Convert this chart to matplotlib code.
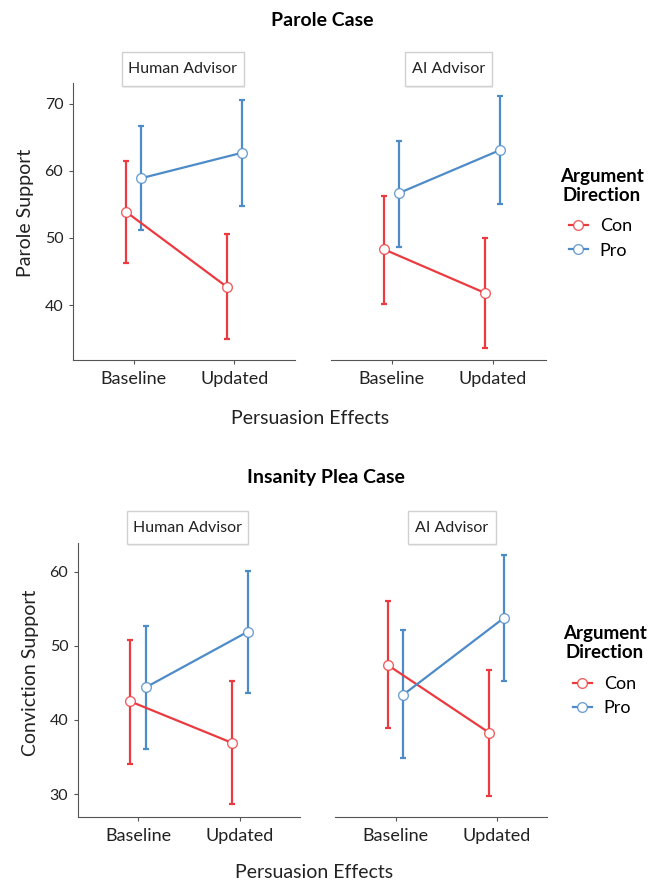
import numpy as np
import matplotlib
matplotlib.use('Agg')
import matplotlib.pyplot as plt
from matplotlib.colors import to_rgba
from matplotlib.patches import Rectangle

plt.rcParams['font.family'] = ['Lato', 'DejaVu Sans']

conditions = ['Baseline', 'Updated']
directions = ['Con', 'Pro']
advisors = ['Human Advisor', 'AI Advisor']
colors = ['#ec3b40', '#4d8bc9']

# Parole case: mean, lower and upper CI for [Baseline, Updated]
parole_human_con = [53.9, 42.7]
parole_human_con_lo = [46.2, 34.9]
parole_human_con_hi = [61.5, 50.6]
parole_human_pro = [58.9, 62.7]
parole_human_pro_lo = [51.2, 54.8]
parole_human_pro_hi = [66.7, 70.6]
parole_ai_con = [48.3, 41.8]
parole_ai_con_lo = [40.1, 33.6]
parole_ai_con_hi = [56.2, 50.0]
parole_ai_pro = [56.7, 63.1]
parole_ai_pro_lo = [48.7, 55.1]
parole_ai_pro_hi = [64.5, 71.2]

# Insanity plea case
plea_human_con = [42.5, 36.9]
plea_human_con_lo = [34.1, 28.6]
plea_human_con_hi = [50.8, 45.2]
plea_human_pro = [44.4, 51.9]
plea_human_pro_lo = [36.1, 43.7]
plea_human_pro_hi = [52.7, 60.1]
plea_ai_con = [47.4, 38.3]
plea_ai_con_lo = [38.9, 29.8]
plea_ai_con_hi = [56.1, 46.8]
plea_ai_pro = [43.4, 53.8]
plea_ai_pro_lo = [34.8, 45.3]
plea_ai_pro_hi = [52.1, 62.3]

W, H = 657, 884
fig = plt.figure(figsize=(W / 100, H / 100), dpi=100)
spine_col = '#555555'
text_col = '#222222'


def fx(px):
    return px / W


def fy(py):
    return 1 - py / H


def make_ax(x0, x1, y0, y1):
    return fig.add_axes([fx(x0), fy(y1), fx(x1 - x0), (y1 - y0) / H])


def draw_panel(ax, series, xlim, ylim, yticks, show_y):
    x = np.arange(1, len(conditions) + 1)
    handles = []
    for (mean, lo, hi), col, off in zip(series, colors, [-0.075, 0.075]):
        mean, lo, hi = np.array(mean), np.array(lo), np.array(hi)
        xs = x + off
        ax.errorbar(xs, mean, yerr=[mean - lo, hi - mean], fmt='none',
                    ecolor=col, elinewidth=1.6, capsize=2, capthick=1.6, zorder=2)
        h, = ax.plot(xs, mean, color=col, lw=1.6, marker='o', ms=7,
                     mfc='white', mec=to_rgba(col, 0.8), mew=1, zorder=3)
        handles.append(h)
    ax.set_xlim(*xlim)
    ax.set_ylim(*ylim)
    ax.set_xticks(x)
    ax.set_xticklabels(conditions, fontsize=13, color=text_col)
    for s in ['top', 'right']:
        ax.spines[s].set_visible(False)
    ax.spines['bottom'].set_color(spine_col)
    ax.spines['left'].set_color(spine_col)
    ax.tick_params(axis='x', length=3, color=spine_col, pad=5)
    if show_y:
        ax.set_yticks(yticks)
        ax.tick_params(axis='y', length=3, color=spine_col, labelsize=11.5,
                       labelcolor=text_col, pad=4)
    else:
        ax.spines['left'].set_visible(False)
        ax.set_yticks([])
    ax.patch.set_alpha(0)
    return handles


def strip(x0, x1, y0, y1, label):
    fig.patches.append(Rectangle((fx(x0) + 0.002, fy(y1) - 0.002), fx(x1 - x0), (y1 - y0) / H,
                                 transform=fig.transFigure, facecolor='#eeeeee',
                                 edgecolor='none', zorder=1))
    fig.patches.append(Rectangle((fx(x0), fy(y1)), fx(x1 - x0), (y1 - y0) / H,
                                 transform=fig.transFigure, facecolor='white',
                                 edgecolor='#d0d0d0', lw=1, zorder=2))
    fig.text(fx((x0 + x1) / 2), fy((y0 + y1) / 2), label, ha='center', va='center',
             fontsize=11.5, color=text_col, zorder=3)


def legend(handles, title_x, title_y, key_x, key_y):
    fig.text(fx(title_x), fy(title_y), 'Argument\nDirection', ha='center', va='center',
             fontsize=13.5, fontweight='bold', linespacing=1.1)
    fig.legend(handles, directions, loc='center left',
               bbox_to_anchor=(fx(key_x), fy(key_y)),
               frameon=False, fontsize=13, handlelength=1.05,
               handletextpad=0.65, labelspacing=0.45, borderaxespad=0, borderpad=0)


# Parole case
ax1 = make_ax(73, 295, 83, 360)
h = draw_panel(ax1, [(parole_human_con, parole_human_con_lo, parole_human_con_hi),
                     (parole_human_pro, parole_human_pro_lo, parole_human_pro_hi)],
               (0.4, 2.6), (31.8, 73.1), [40, 50, 60, 70], True)
ax2 = make_ax(331, 546, 83, 360)
draw_panel(ax2, [(parole_ai_con, parole_ai_con_lo, parole_ai_con_hi),
                 (parole_ai_pro, parole_ai_pro_lo, parole_ai_pro_hi)],
           (0.4, 2.53), (31.8, 73.1), [], False)
strip(122, 244, 52, 86, advisors[0])
strip(405, 492, 52, 86, advisors[1])
fig.text(fx(322), fy(20), 'Parole Case', ha='center', va='center',
         fontsize=14, fontweight='bold')
fig.text(fx(310), fy(418), 'Persuasion Effects', ha='center', va='center',
         fontsize=14, color=text_col)
fig.text(fx(25), fy(213), 'Parole Support', ha='center', va='center',
         rotation=90, fontsize=14, color=text_col)
legend(h, 602, 186, 569, 238.5)

# Insanity plea case
ax3 = make_ax(78, 300, 543, 817)
h = draw_panel(ax3, [(plea_human_con, plea_human_con_lo, plea_human_con_hi),
                     (plea_human_pro, plea_human_pro_lo, plea_human_pro_hi)],
               (0.41, 2.59), (26.9, 63.9), [30, 40, 50, 60], True)
ax4 = make_ax(335, 547, 543, 817)
draw_panel(ax4, [(plea_ai_con, plea_ai_con_lo, plea_ai_con_hi),
                 (plea_ai_pro, plea_ai_pro_lo, plea_ai_pro_hi)],
           (0.4, 2.5), (26.9, 63.9), [], False)
strip(127, 248, 511, 544, advisors[0])
strip(408, 496, 511, 544, advisors[1])
fig.text(fx(326), fy(477), 'Insanity Plea Case', ha='center', va='center',
         fontsize=14, fontweight='bold')
fig.text(fx(314), fy(873), 'Persuasion Effects', ha='center', va='center',
         fontsize=14, color=text_col)
fig.text(fx(31), fy(673), 'Conviction Support', ha='center', va='center',
         rotation=90, fontsize=14, color=text_col)
legend(h, 605, 643, 573, 696)

fig.savefig('out.png', dpi=100)
